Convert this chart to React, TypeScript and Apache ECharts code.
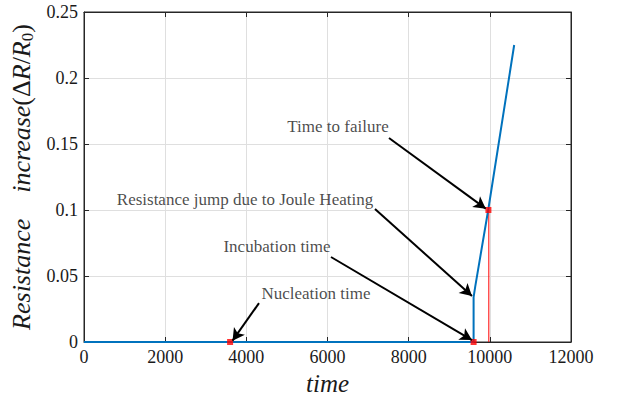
import React, { useEffect, useRef } from "react";
import * as echarts from "echarts";

// Resistance curve (time, ΔR/R0)
const curveX = [0, 9600, 9600, 9640, 9960, 10600];
const curveY = [0, 0, 0.034, 0.042, 0.1, 0.225];

// Key events (red markers)
const eventX = [3600, 9600, 9965];
const eventY = [0, 0, 0.1];

// Failure line
const failX = [9975, 9975];
const failY = [0, 0.1];

// Annotations: text, text position, arrow start, arrow end
const annTexts = [
  "Nucleation time",
  "Incubation time",
  "Resistance jump due to Joule Heating",
  "Time to failure",
];
const annTextX = [5717, 4756, 3967, 6259];
const annTextY = [0.0364, 0.0727, 0.1076, 0.1629];
const arrowFromX = [4312, 6086, 7170, 7515];
const arrowFromY = [0.0295, 0.0644, 0.1008, 0.1545];
const arrowToX = [3660, 9560, 9560, 9900];
const arrowToY = [0.001, 0.0015, 0.0348, 0.101];

const xTicks = { min: 0, max: 12000, interval: 2000 };
const yTicks = { min: 0, max: 0.25, interval: 0.05 };

const SERIF = "'Liberation Serif', 'DejaVu Serif', serif";

export default function App() {
  const ref = useRef<HTMLDivElement>(null);
  useEffect(() => {
    if (!ref.current) return;
    const chart = echarts.init(ref.current, undefined, { renderer: "svg" });
    const tickLabel = { fontFamily: SERIF, fontSize: 18, color: "#1a1a1a" };
    const option: any = {
      animation: false,
      backgroundColor: "#ffffff",
      grid: {
        left: 84,
        right: 46,
        top: 12,
        bottom: 55,
        containLabel: false,
        outerBoundsMode: "none",
        show: true,
        borderColor: "#262626",
        borderWidth: 1,
        backgroundColor: "#ffffff",
      },
      xAxis: [
        {
          type: "value",
          ...xTicks,
          position: "bottom",
          axisLine: { show: true, onZero: false, lineStyle: { color: "#262626" } },
          axisTick: { show: true, inside: true, length: 5, lineStyle: { color: "#262626" } },
          axisLabel: { ...tickLabel, margin: 6, formatter: (v: number) => String(v) },
          splitLine: { show: true, lineStyle: { color: "#dfdfdf", width: 1 } },
          name: "time",
          nameLocation: "middle",
          nameGap: 29,
          nameTextStyle: { fontFamily: SERIF, fontSize: 25, fontStyle: "italic", color: "#1a1a1a" },
        },
        {
          type: "value",
          ...xTicks,
          position: "top",
          axisLine: { show: true, onZero: false, lineStyle: { color: "#262626" } },
          axisTick: { show: true, inside: true, length: 5, lineStyle: { color: "#262626" } },
          axisLabel: { show: false },
          splitLine: { show: false },
        },
      ],
      yAxis: [
        {
          type: "value",
          ...yTicks,
          position: "left",
          axisLine: { show: true, onZero: false, lineStyle: { color: "#262626" } },
          axisTick: { show: true, inside: true, length: 5, lineStyle: { color: "#262626" } },
          axisLabel: { ...tickLabel, margin: 6, formatter: (v: number) => String(+v.toFixed(2)) },
          splitLine: { show: true, lineStyle: { color: "#dfdfdf", width: 1 } },
          name: "{i|Resistance    increase}{n|(Δ}{i|R}{n|/}{i|R}{s|0}{n|)}",
          nameLocation: "middle",
          nameGap: 37,
          nameRotate: 90,
          nameTextStyle: {
            fontFamily: SERIF,
            fontSize: 26,
            color: "#1a1a1a",
            rich: {
              i: { fontFamily: SERIF, fontSize: 26, fontStyle: "italic", color: "#1a1a1a" },
              n: { fontFamily: SERIF, fontSize: 26, color: "#1a1a1a" },
              s: { fontFamily: SERIF, fontSize: 17, color: "#1a1a1a", verticalAlign: "bottom", padding: [12, 0, 0, 0] },
            },
          },
        },
        {
          type: "value",
          ...yTicks,
          position: "right",
          axisLine: { show: true, onZero: false, lineStyle: { color: "#262626" } },
          axisTick: { show: true, inside: true, length: 5, lineStyle: { color: "#262626" } },
          axisLabel: { show: false },
          splitLine: { show: false },
        },
      ],
      series: [
        {
          type: "line",
          data: curveX.map((x, i) => [x, curveY[i]]),
          showSymbol: false,
          symbol: "none",
          lineStyle: { color: "#0072BD", width: 2 },
          z: 3,
        },
        {
          type: "line",
          data: failX.map((x, i) => [x, failY[i]]),
          showSymbol: false,
          symbol: "none",
          lineStyle: { color: "#FF0000", width: 1 },
          z: 2,
        },
        {
          type: "scatter",
          data: eventX.map((x, i) => [x, eventY[i]]),
          symbol: "rect",
          symbolSize: 6,
          itemStyle: { color: "#FF0000" },
          z: 4,
        },
        {
          type: "scatter",
          data: annTexts.map((t, i) => ({ value: [annTextX[i], annTextY[i]], name: t })),
          symbolSize: 0,
          label: {
            show: true,
            position: "inside",
            formatter: (p: any) => p.name,
            fontFamily: SERIF,
            fontSize: 17,
            color: "#1a1a1a",
          },
          z: 6,
          markLine: {
            silent: true,
            symbol: ["none", "arrow"],
            symbolSize: [10, 12],
            label: { show: false },
            lineStyle: { color: "#000000", width: 2, type: "solid" },
            data: annTexts.map((_, i) => [
              { coord: [arrowFromX[i], arrowFromY[i]] },
              { coord: [arrowToX[i], arrowToY[i]] },
            ]),
          },
        },
      ],
    };
    chart.setOption(option);
    return () => chart.dispose();
  }, []);
  return <div ref={ref} style={{ width: 617, height: 397, position: "absolute", left: 0, top: 0 }} />;
}
